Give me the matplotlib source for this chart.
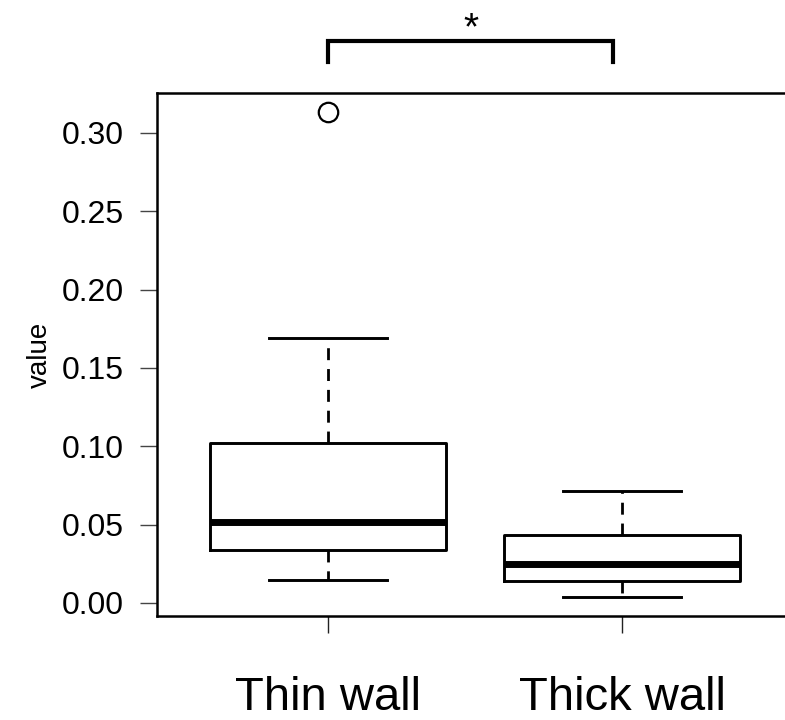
import matplotlib.pyplot as plt

plt.rcParams['font.family'] = ['Liberation Sans', 'DejaVu Sans']

# box statistics
groups = ['Thin wall', 'Thick wall']
whislo = [0.0147, 0.0038]
q1 = [0.0338, 0.0140]
med = [0.0517, 0.0249]
q3 = [0.1020, 0.0434]
whishi = [0.1690, 0.0715]
fliers = [[0.3134], []]
yticks = [0.00, 0.05, 0.10, 0.15, 0.20, 0.25, 0.30]

stats = []
for i, g in enumerate(groups):
    stats.append(dict(label=g, whislo=whislo[i], q1=q1[i], med=med[i],
                      q3=q3[i], whishi=whishi[i], fliers=fliers[i]))

fig = plt.figure(figsize=(7.85, 7.2), dpi=100)
ax = fig.add_axes([157 / 785, 1 - 616 / 720, (793 - 157) / 785, (616 - 93) / 720])

ax.bxp(stats, positions=[1, 2], widths=0.8, showfliers=True,
       boxprops=dict(color='black', linewidth=2.1),
       medianprops=dict(color='black', linewidth=5),
       whiskerprops=dict(color='black', linewidth=2, linestyle=(0, (4.3, 3.2))),
       capprops=dict(color='black', linewidth=2.1),
       capwidths=0.4,
       flierprops=dict(marker='o', markersize=14, markerfacecolor='none',
                       markeredgecolor='black', markeredgewidth=1.6))

ax.set_xlim(0.42, 2.58)
ax.set_ylim(-0.0084, 0.3255)
ax.set_yticks(yticks)
ax.set_yticklabels(['%.2f' % v for v in yticks])
ax.set_xticks([1, 2])
ax.set_xticklabels(groups)

for s in ax.spines.values():
    s.set_linewidth(1.8)
ax.tick_params(axis='y', length=12, width=1, pad=12, labelsize=23, color='#444444')
ax.tick_params(axis='x', length=12, width=1, pad=31, labelsize=34, color='#222222')
ax.set_ylabel('value', fontsize=20, labelpad=6)

# significance bracket
ax.plot([1, 1, 1.97, 1.97], [0.345, 0.359, 0.359, 0.345], color='black',
        linewidth=3, clip_on=False, solid_joinstyle='miter')
ax.text(1.485, 0.366, '*', ha='center', va='center', fontsize=28)

fig.savefig('out.png', dpi=100)
